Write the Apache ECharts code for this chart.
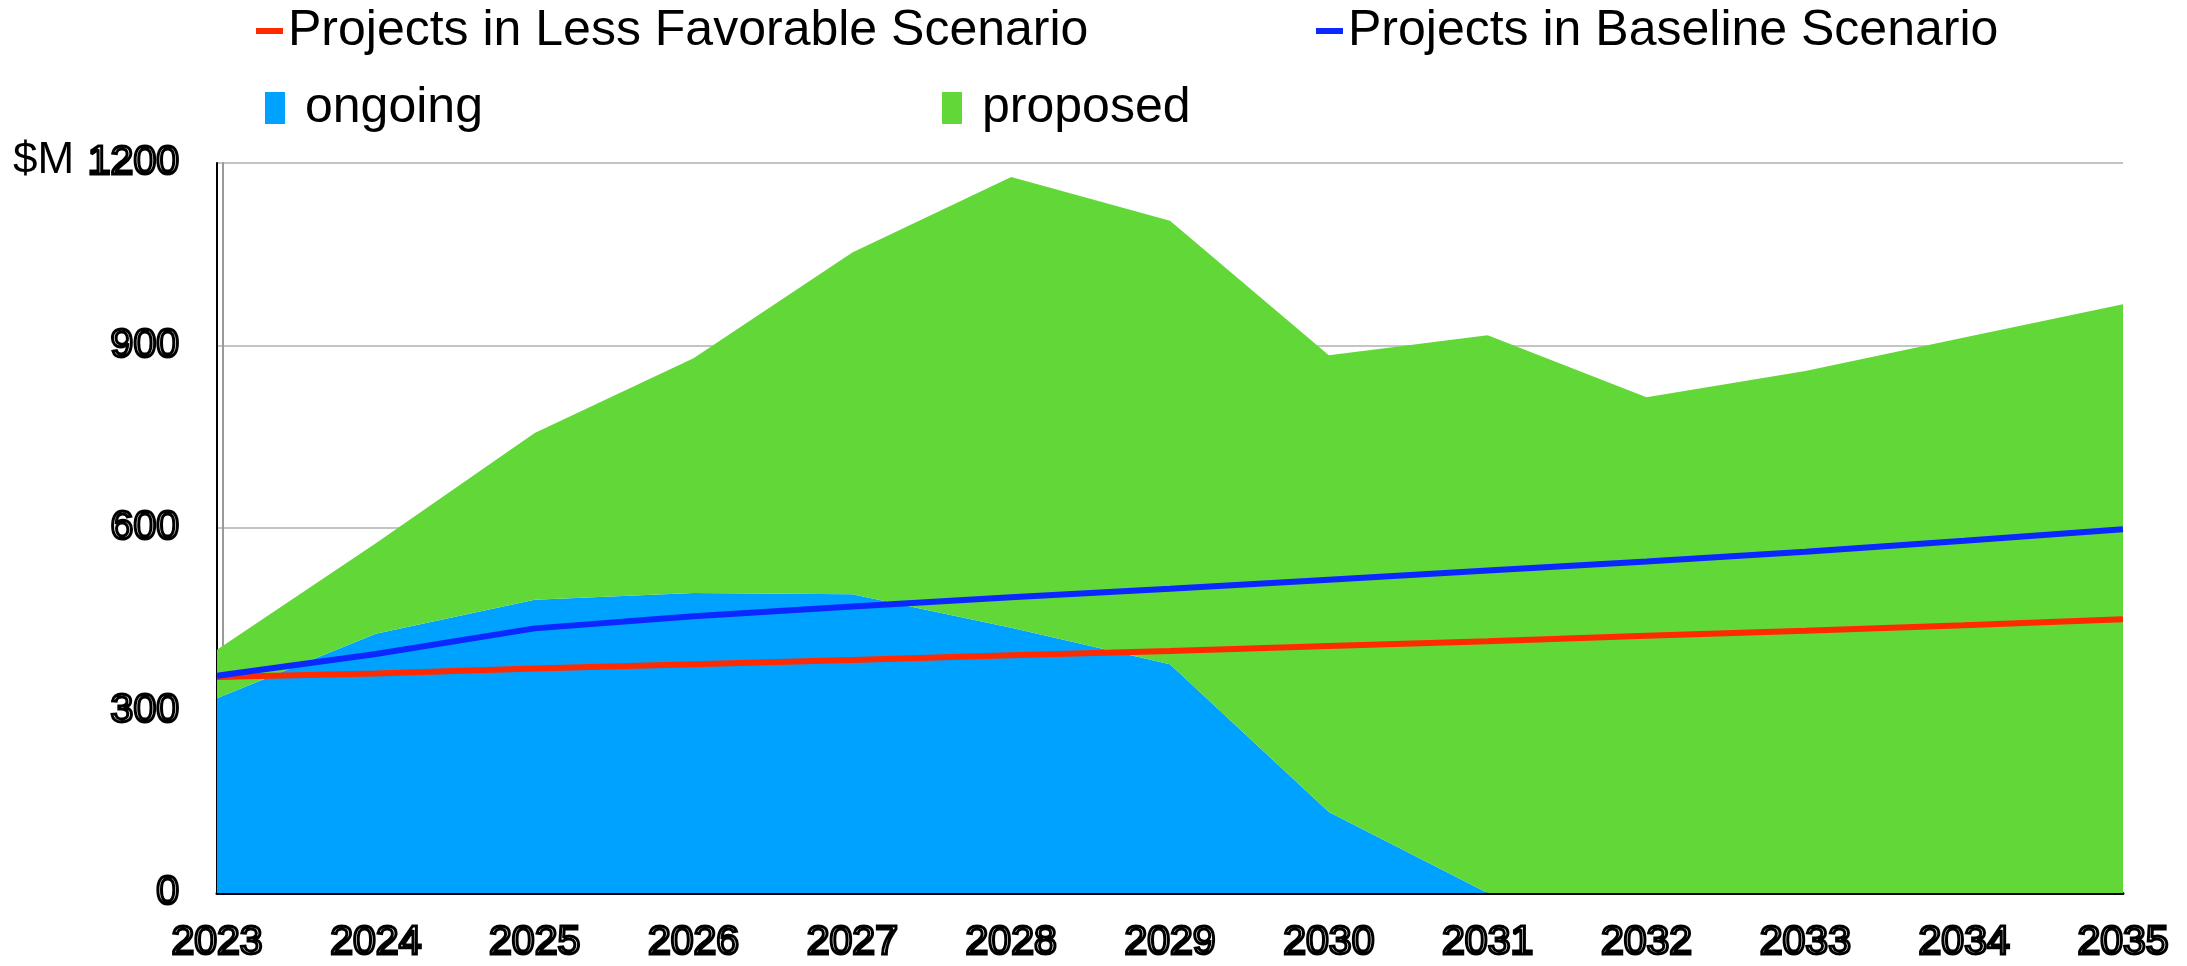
<!DOCTYPE html>
<html>
<head>
<meta charset="utf-8">
<script src="https://cdn.jsdelivr.net/npm/echarts@6/dist/echarts.min.js"></script>
<style>
  html, body { margin: 0; padding: 0; background: #fff; }
  #main { width: 2187px; height: 966px; }
</style>
</head>
<body>
<div id="main"></div>
<script>
// data
var years = ['2023', '2024', '2025', '2026', '2027', '2028', '2029', '2030', '2031', '2032', '2033', '2034', '2035'];
var ongoing = [320, 426, 482, 493, 491, 436, 376, 133, 0, 0, 0, 0, 0];
var proposed = [80, 149, 274, 386, 562, 741, 729, 751, 917, 815, 858, 913, 968];
var lessFavorable = [355, 361, 369, 376, 383, 391, 398, 406, 414, 423, 431, 440, 450];
var baseline = [357, 393, 435, 455, 471, 486, 500, 515, 530, 545, 561, 579, 598];

var myChart = echarts.init(document.getElementById('main'));

// outlined, doubled look of the axis numbers
var hollowLabel = {
    fontSize: 41,
    fontFamily: 'Liberation Sans',
    color: 'rgba(0,0,0,0)',
    textBorderColor: '#000',
    textBorderWidth: 3,
    textShadowColor: '#000',
    textShadowOffsetX: 4,
    textShadowOffsetY: 1,
    textShadowBlur: 0
};

var legendText = { fontSize: 50, fontFamily: 'Liberation Sans', color: '#000', lineHeight: 56 };
var boxText = { fontSize: 50, fontFamily: 'Liberation Sans', color: '#000', lineHeight: 56, padding: [0, 0, 0, 15] };

option = {
    animation: false,
    title: {
        text: '$M',
        left: 13,
        top: 139,
        padding: 0,
        textStyle: { fontSize: 44, fontWeight: 'normal', fontFamily: 'Liberation Sans', color: '#000' }
    },
    legend: [
        {
            left: 256, top: 3, padding: 0,
            icon: 'rect', itemWidth: 27, itemHeight: 6,
            textStyle: legendText,
            data: ['Projects in Less Favorable Scenario']
        },
        {
            left: 1316, top: 3, padding: 0,
            icon: 'rect', itemWidth: 27, itemHeight: 6,
            textStyle: legendText,
            data: ['Projects in Baseline Scenario']
        },
        {
            left: 265, top: 80, padding: 0,
            icon: 'rect', itemWidth: 20, itemHeight: 32,
            textStyle: boxText,
            data: ['ongoing']
        },
        {
            left: 942, top: 80, padding: 0,
            icon: 'rect', itemWidth: 20, itemHeight: 32,
            textStyle: boxText,
            data: ['proposed']
        }
    ],
    grid: {
        left: 217,
        right: 64,
        top: 163,
        bottom: 73
    },
    xAxis: {
        type: 'category',
        boundaryGap: false,
        data: years,
        axisTick: { show: false },
        axisLine: { lineStyle: { color: '#000', width: 3 } },
        axisLabel: Object.assign({ margin: 29 }, hollowLabel),
        splitLine: { show: false }
    },
    yAxis: [
        {
            type: 'value',
            min: 0,
            max: 1200,
            interval: 300,
            axisTick: { show: false },
            axisLine: { show: true, lineStyle: { color: '#000', width: 2 } },
            axisLabel: Object.assign({
                margin: 38,
                formatter: function (v) { return String(v); }
            }, hollowLabel),
            splitLine: { lineStyle: { color: '#c4c4c4', width: 2 } }
        },
        {
            type: 'value',
            position: 'left',
            offset: -6,
            min: 0,
            max: 1200,
            interval: 300,
            axisTick: { show: false },
            axisLabel: { show: false },
            axisLine: { show: true, lineStyle: { color: '#9a9a9a', width: 2 } },
            splitLine: { show: false }
        }
    ],
    series: [
        {
            name: 'ongoing',
            type: 'line',
            stack: 'total',
            symbol: 'none',
            color: '#00a2ff',
            lineStyle: { width: 0 },
            areaStyle: { color: '#00a2ff', opacity: 1 },
            data: ongoing
        },
        {
            name: 'proposed',
            type: 'line',
            stack: 'total',
            symbol: 'none',
            color: '#62d838',
            lineStyle: { width: 0 },
            areaStyle: { color: '#62d838', opacity: 1 },
            data: proposed
        },
        {
            name: 'Projects in Less Favorable Scenario',
            type: 'line',
            symbol: 'none',
            color: '#ff2a00',
            lineStyle: { color: '#ff2a00', width: 6 },
            data: lessFavorable
        },
        {
            name: 'Projects in Baseline Scenario',
            type: 'line',
            symbol: 'none',
            color: '#0a28ff',
            lineStyle: { color: '#0a28ff', width: 6 },
            data: baseline
        }
    ]
};
myChart.setOption(option);
</script>
</body>
</html>
